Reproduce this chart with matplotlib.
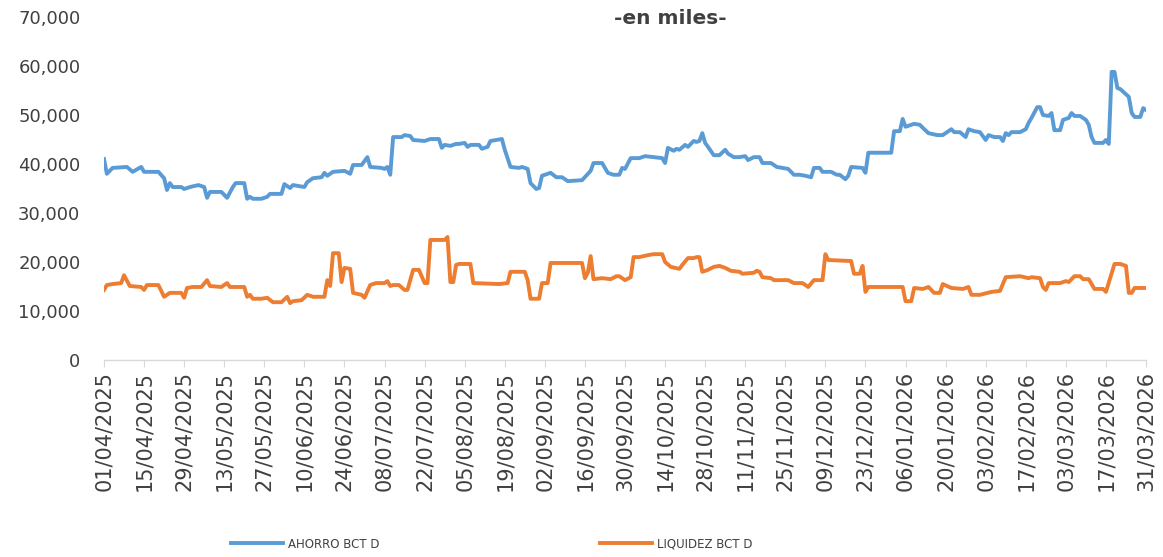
import numpy as np
import pandas as pd
import matplotlib
matplotlib.use("Agg")
import matplotlib.pyplot as plt
import matplotlib.dates as mdates
from matplotlib.ticker import FuncFormatter

# series (day offset from 01/04/2025, value in thousands)
start = pd.Timestamp("2025-04-01")

ahorro_days = [0, 1, 3, 8, 10, 13, 14, 19, 21, 22, 23, 24, 27, 28, 30, 33, 35, 36, 37, 41,
               42, 43, 45, 46, 49, 50, 51, 52, 55, 57, 58, 62, 63, 65, 66, 70, 71, 73, 76, 77,
               78, 80, 84, 86, 87, 90, 92, 93, 97, 98, 99, 100, 101, 104, 105, 107, 108, 112, 114, 117,
               118, 119, 121, 123, 124, 126, 127, 128, 131, 132, 134, 135, 139, 140, 142, 145, 146, 148, 149, 151,
               152, 153, 156, 158, 160, 162, 167, 170, 171, 174, 176, 178, 180, 181, 182, 184, 187, 189, 192, 195,
               196, 197, 199, 200, 201, 203, 204, 206, 207, 208, 209, 210, 211, 213, 215, 217, 218, 220, 222, 224,
               225, 227, 229, 230, 233, 235, 237, 239, 241, 243, 245, 247, 248, 250, 251, 254, 256, 257, 259, 260,
               261, 265, 266, 267, 275, 276, 278, 279, 280, 283, 285, 286, 288, 291, 293, 294, 296, 297, 299, 301,
               302, 304, 306, 308, 309, 311, 313, 314, 315, 316, 317, 320, 322, 323, 324, 326, 327, 328, 330, 331,
               332, 334, 335, 337, 338, 339, 341, 343, 344, 345, 346, 349, 350, 351, 352, 353, 354, 355, 358, 359,
               360, 362, 363, 364]
ahorro = [41.0, 38.0, 39.2, 39.4, 38.4, 39.4, 38.4, 38.4, 37.1, 34.7, 36.1, 35.3, 35.3, 34.9, 35.3, 35.7, 35.3, 33.1, 34.3, 34.3,
          33.7, 33.1, 35.3, 36.1, 36.1, 32.9, 33.3, 32.9, 32.9, 33.3, 33.9, 33.9, 35.9, 35.1, 35.7, 35.3, 36.3, 37.1, 37.3, 38.2,
          37.6, 38.4, 38.6, 38.0, 39.8, 39.8, 41.4, 39.4, 39.2, 39.0, 39.4, 37.8, 45.5, 45.5, 45.9, 45.7, 44.9, 44.7, 45.1, 45.1,
          43.3, 43.9, 43.7, 44.1, 44.1, 44.3, 43.5, 43.9, 43.9, 43.1, 43.5, 44.7, 45.1, 42.9, 39.4, 39.2, 39.4, 39.0, 36.1, 34.9,
          35.1, 37.6, 38.2, 37.3, 37.3, 36.5, 36.7, 38.6, 40.2, 40.2, 38.2, 37.8, 37.8, 39.2, 39.0, 41.2, 41.2, 41.6, 41.4, 41.2,
          40.2, 43.3, 42.7, 43.1, 42.9, 43.9, 43.5, 44.7, 44.5, 44.7, 46.3, 44.3, 43.5, 41.8, 41.8, 42.9, 42.1, 41.4, 41.4, 41.6,
          40.8, 41.4, 41.4, 40.2, 40.2, 39.4, 39.2, 39.0, 37.8, 37.8, 37.6, 37.3, 39.2, 39.2, 38.4, 38.4, 37.8, 37.8, 36.9, 37.6,
          39.4, 39.2, 38.2, 42.3, 42.3, 46.7, 46.7, 49.2, 47.6, 48.2, 48.0, 47.4, 46.3, 45.9, 45.9, 46.3, 47.1, 46.5, 46.5, 45.5,
          47.1, 46.7, 46.5, 44.9, 45.9, 45.5, 45.5, 44.7, 46.3, 45.9, 46.5, 46.5, 47.1, 48.4, 49.4, 51.6, 51.6, 50.0, 49.8, 50.4,
          46.9, 46.9, 49.0, 49.4, 50.4, 49.8, 49.8, 49.0, 48.0, 45.5, 44.3, 44.3, 44.9, 44.1, 58.8, 58.8, 55.5, 55.3, 53.7, 50.4,
          49.6, 49.6, 51.4, 51.0]

liquidez_days = [0, 1, 3, 6, 7, 9, 13, 14, 15, 19, 21, 23, 27, 28, 29, 31, 34, 36, 37, 41,
                 43, 44, 49, 50, 51, 52, 55, 57, 59, 62, 64, 65, 66, 69, 71, 73, 77, 78, 79, 80,
                 82, 83, 84, 86, 87, 90, 91, 93, 95, 98, 99, 100, 101, 103, 105, 106, 108, 110, 112, 113,
                 114, 119, 120, 121, 122, 123, 124, 128, 129, 138, 141, 142, 147, 148, 149, 152, 153, 155, 156, 166,
                 167, 168, 169, 170, 171, 174, 177, 179, 180, 182, 184, 185, 187, 190, 192, 195, 196, 198, 201, 202,
                 204, 206, 207, 208, 209, 211, 213, 215, 217, 219, 222, 223, 227, 228, 229, 230, 233, 234, 239, 241,
                 244, 246, 248, 251, 252, 253, 261, 262, 264, 265, 266, 267, 279, 280, 282, 283, 286, 288, 290, 292,
                 293, 296, 300, 302, 303, 306, 310, 313, 315, 320, 323, 324, 327, 328, 329, 330, 334, 336, 337, 339,
                 341, 342, 344, 346, 349, 350, 353, 355, 357, 358, 359, 360, 364]
liquidez = [14.3, 15.3, 15.5, 15.7, 17.3, 15.1, 14.9, 14.3, 15.3, 15.3, 12.9, 13.7, 13.7, 12.7, 14.7, 14.9, 14.9, 16.3, 15.1, 14.9,
            15.7, 14.9, 14.9, 12.9, 13.3, 12.5, 12.5, 12.7, 11.8, 11.8, 12.9, 11.6, 12.0, 12.2, 13.3, 12.9, 12.9, 16.3, 15.1, 21.8,
            21.8, 15.9, 18.8, 18.6, 13.7, 13.3, 12.7, 15.3, 15.7, 15.7, 16.1, 15.1, 15.3, 15.3, 14.3, 14.3, 18.4, 18.4, 15.7, 15.7,
            24.5, 24.5, 25.1, 15.9, 15.9, 19.4, 19.6, 19.6, 15.7, 15.5, 15.7, 18.0, 18.0, 16.3, 12.5, 12.5, 15.7, 15.7, 19.8, 19.8,
            19.8, 16.7, 17.8, 21.2, 16.5, 16.7, 16.5, 17.1, 17.1, 16.3, 16.9, 21.0, 21.0, 21.4, 21.6, 21.6, 20.0, 19.0, 18.6, 19.4,
            20.8, 20.8, 21.0, 21.0, 18.0, 18.4, 19.0, 19.2, 18.8, 18.2, 18.0, 17.6, 17.8, 18.2, 18.0, 16.9, 16.7, 16.3, 16.3, 15.7,
            15.7, 14.9, 16.3, 16.3, 21.6, 20.4, 20.2, 17.6, 17.6, 19.2, 13.9, 14.9, 14.9, 12.0, 12.0, 14.7, 14.5, 14.9, 13.7, 13.7,
            15.5, 14.7, 14.5, 14.9, 13.3, 13.3, 13.9, 14.1, 16.9, 17.1, 16.7, 16.9, 16.7, 14.9, 14.3, 15.7, 15.7, 16.1, 15.9, 17.1,
            17.1, 16.5, 16.5, 14.5, 14.5, 13.9, 19.6, 19.6, 19.2, 13.7, 13.7, 14.7, 14.7]

tick_step_days = 14
n_days = 364

blue = "#5B9BD5"
orange = "#ED7D31"
txt = "#404040"

plt.rcParams['font.family'] = ['DejaVu Sans']

fig = plt.figure(figsize=(11.63, 5.57), dpi=100)
ax = fig.add_axes([104 / 1163, 1 - 360 / 557, (1146 - 104) / 1163, (360 - 17) / 557])

d_a = start + pd.to_timedelta(ahorro_days, unit="D")
d_l = start + pd.to_timedelta(liquidez_days, unit="D")
ax.plot(d_a, np.array(ahorro) * 1000, color=blue, lw=2.8, label="AHORRO BCT D", solid_joinstyle="round")
ax.plot(d_l, np.array(liquidez) * 1000, color=orange, lw=2.8, label="LIQUIDEZ BCT D", solid_joinstyle="round")

ax.set_ylim(0, 70000)
ax.set_yticks(np.arange(0, 70001, 10000))
ax.yaxis.set_major_formatter(FuncFormatter(lambda v, p: f"{v:,.0f}"))
ax.set_xlim(start, start + pd.Timedelta(days=n_days))
ticks = [start + pd.Timedelta(days=d) for d in range(0, n_days + 1, tick_step_days)]
ax.set_xticks(ticks)
ax.xaxis.set_major_formatter(mdates.DateFormatter("%d/%m/%Y"))

for s in ["top", "right", "left"]:
    ax.spines[s].set_visible(False)
ax.spines["bottom"].set_color("#D9D9D9")
ax.spines["bottom"].set_linewidth(1.0)
ax.tick_params(axis="y", length=0, pad=17, labelsize=13, labelcolor=txt)
ax.tick_params(axis="x", length=5, color="#D9D9D9", direction="out", pad=3,
               labelsize=15, labelcolor=txt, labelrotation=90)

fig.text(670 / 1163, 1 - 18 / 557, "-en miles-", ha="center", va="center",
         fontsize=14.5, fontweight="bold", color=txt)

fig.legend(loc="center", bbox_to_anchor=(492 / 1163, 1 - 544 / 557), ncol=2, frameon=False,
           fontsize=8.5, handlelength=4.4, handletextpad=0.4, columnspacing=18.7, labelcolor=txt)

fig.savefig("out.png", dpi=100)
